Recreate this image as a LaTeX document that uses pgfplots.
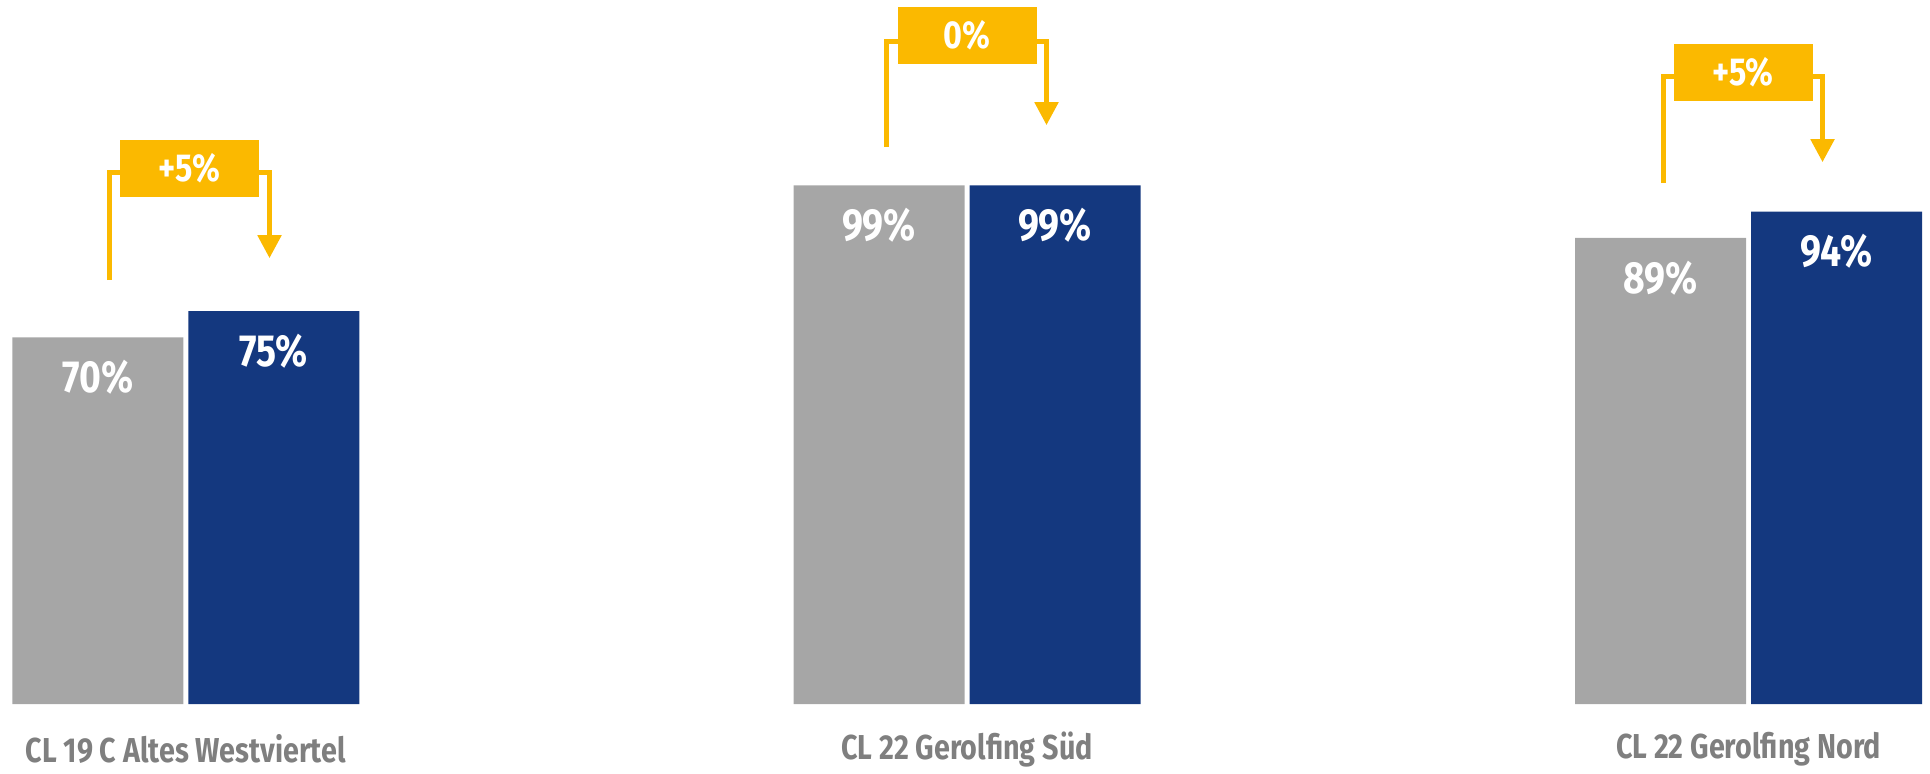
\documentclass[border=0pt]{standalone}
\usepackage{fontspec}
\setmainfont{Fira Sans}[FakeStretch=0.83]
\usepackage{pgfplots}
\pgfplotsset{compat=1.18}
\usetikzlibrary{arrows.meta}

\definecolor{barGray}{HTML}{A6A6A6}
\definecolor{barBlue}{HTML}{14387F}
\definecolor{accent}{HTML}{FBB900}
\definecolor{labelGray}{HTML}{7F7F7F}

% 1px = 0.5pt; y: 0% at 704px from top, 5.24px per %
\begin{document}
\begin{tikzpicture}
\begin{axis}[
    width=965pt, height=384.5pt,
    scale only axis,
    xmin=0, xmax=1930,
    ymin=-12.405, ymax=134.35,
    enlargelimits=false,
    clip=false,
    axis line style={draw=none},
    major tick length=0pt,
    ytick=\empty,
    xtick={185.75,967,1748.5},
    xticklabels={CL 19 C Altes Westviertel, CL 22 Gerolfing Süd, CL 22 Gerolfing Nord},
    xticklabel style={anchor=center, yshift=10pt, text=labelGray,
        font=\bfseries\fontsize{17.3}{18}\selectfont},
    ybar=2.5pt,
    bar width=85.5pt,
    nodes near coords={\pgfmathprintnumber[assume math mode=true]{\pgfplotspointmeta}\%},
    every node near coord/.append style={anchor=center, yshift=-20pt, text=white,
        font=\bfseries\fontsize{22.5}{23}\selectfont},
]
\addplot[fill=barGray, draw=none] coordinates {(185.75,70) (967,99) (1748.5,89)};
\addplot[fill=barBlue, draw=none] coordinates {(185.75,75) (967,99) (1748.5,94)};

\tikzset{
  annot/.style={draw=accent, line width=2.5pt},
  arr/.style={annot, -{Triangle[width=11.5pt,length=11.5pt]}},
  box/.style={fill=accent, minimum width=69.5pt, minimum height=28.5pt, inner sep=0pt,
      text=white, font=\bfseries\fontsize{19.5}{19.5}\selectfont},
}
% group 1
\draw[annot] (axis cs:109.5,{(704-280)/5.24}) |- (axis cs:125,{(704-172.5)/5.24});
\draw[arr] (axis cs:255,{(704-172.5)/5.24}) -| (axis cs:269.5,{(704-258)/5.24});
\node[box] at (axis cs:189.5,{(704-168.5)/5.24}) {+5\%};
% group 2
\draw[annot] (axis cs:886.5,{(704-147)/5.24}) |- (axis cs:903,{(704-41)/5.24});
\draw[arr] (axis cs:1031,{(704-41)/5.24}) -| (axis cs:1046.5,{(704-125)/5.24});
\node[box] at (axis cs:967,{(704-35)/5.24}) {0\%};
% group 3
\draw[annot] (axis cs:1663.5,{(704-183)/5.24}) |- (axis cs:1680,{(704-76.5)/5.24});
\draw[arr] (axis cs:1806,{(704-76.5)/5.24}) -| (axis cs:1822.5,{(704-162)/5.24});
\node[box] at (axis cs:1743,{(704-72.5)/5.24}) {+5\%};
\end{axis}
\end{tikzpicture}
\end{document}
